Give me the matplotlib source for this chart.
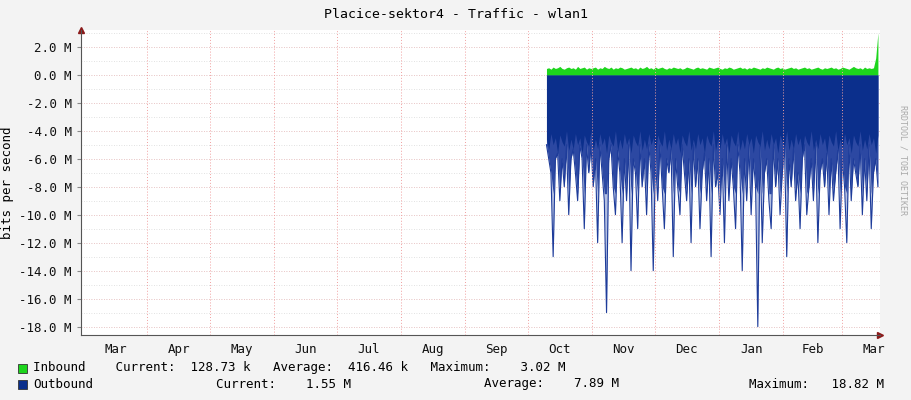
import matplotlib
matplotlib.use("Agg")
import matplotlib.pyplot as plt
import numpy as np

months = ["Mar","Apr","May","Jun","Jul","Aug","Sep","Oct","Nov","Dec","Jan","Feb","Mar"]
month_len = [31,30,31,30,31,31,30,31,30,31,31,28,31]
data_start_day = 223
data_end_day = 382.5
outbound = [5,6,7,13,6,5,9,6,8,5, 10,6,5,7,9,5,6,11,5,7, 5,8,6,12,5,7,9,17,6,5,
            8,10,5,7,12,6,9,5,14,6, 7,11,5,8,6,10,5,7,14,6, 9,5,8,11,6,7,5,13,6,8,
            10,5,7,9,6,12,5,8,6,11, 7,5,9,6,13,5,8,7,10,6, 12,5,9,6,8,11,5,7,14,6,
            9,5,10,6,8,18,5,12,7,6, 9,11,5,8,6,10,7,5,13,6, 8,5,9,7,11,6,5,10,8,6,
            9,5,12,7,6,8,5,10,6,9, 7,5,11,6,8,12,5,9,6,7, 8,5,10,6,9,5,11,7,6,8]
outbound_base = [4.6,5.3,4.2,5.0,4.5,5.6,4.3,4.8,5.1,4.0,5.4]
inbound = [0.45,0.5,0.4,0.55,0.45,0.5,0.6,0.45,0.4,0.5, 0.55,0.45,0.5,0.4,0.6,0.45,0.5,0.55,0.4,0.5,
           0.45,0.5,0.55,0.4,0.5,0.45,0.6,0.5,0.45,0.55, 0.4,0.5,0.45,0.55,0.5,0.4,0.45,0.5,0.55,0.45,
           0.5,0.4,0.55,0.45,0.5,0.6,0.45,0.5,0.4,0.55, 0.45,0.5,0.55,0.45,0.4,0.5,0.45,0.55,0.5,0.45,
           0.5,0.4,0.45,0.55,0.5,0.45,0.4,0.5,0.55,0.45, 0.5,0.45,0.4,0.55,0.5,0.45,0.5,0.55,0.45,0.4,
           0.5,0.45,0.55,0.5,0.4,0.45,0.5,0.55,0.45,0.5, 0.4,0.5,0.45,0.55,0.5,0.45,0.4,0.5,0.45,0.55,
           0.5,0.45,0.4,0.5,0.55,0.45,0.5,0.4,0.45,0.5, 0.55,0.45,0.5,0.4,0.45,0.5,0.55,0.45,0.5,0.4,
           0.45,0.5,0.55,0.45,0.4,0.5,0.45,0.5,0.55,0.45, 0.5,0.4,0.45,0.55,0.5,0.45,0.4,0.5,0.6,0.5,
           0.45,0.5,0.4,0.55,0.45,0.5,0.45,0.5,1.2,3.0]

mono = "DejaVu Sans Mono"
fig = plt.figure(figsize=(9.11,4), dpi=100, facecolor="#F3F3F3")
ax = fig.add_axes([81/911, 1-335/400, 799/911, 305/400], facecolor="white")

n = len(outbound)
xo = np.linspace(data_start_day, data_end_day, n)
base = np.array([outbound_base[i % len(outbound_base)] for i in range(n)])
out = -np.maximum(np.array(outbound, float), base) * 1e6
ax.fill_between(xo, 0, out, color="#B4C0E2", lw=0, zorder=2)
ax.fill_between(xo, 0, np.maximum(out, -8.5e6), color="#2C48A2", lw=0, zorder=2)
ax.plot(xo, out, color="#1E3C9A", lw=0.8, zorder=2)
ax.fill_between(xo, 0, -base*1e6, color="#0B2F8C", lw=0, zorder=3)
xi = np.linspace(data_start_day, data_end_day, len(inbound))
ax.fill_between(xi, 0, np.array(inbound)*1e6, color="#1DD51D", lw=0, zorder=3)

starts = np.cumsum([0]+month_len[:-1])
for s in starts[1:]:
    ax.axvline(s, color="#F0A0A0", lw=0.7, ls=(0,(1,2)), zorder=4)
for v in np.arange(-18, 4, 1):
    ax.axhline(v*1e6, color="#D8D8D8", lw=0.6, ls=(0,(1,2)), zorder=1)
for v in np.arange(-18, 4, 2):
    ax.axhline(v*1e6, color="#F0C0C0", lw=0.6, ls=(0,(1,2)), zorder=1)

yt = np.arange(-18, 3, 2)
ax.set_yticks(yt*1e6)
ax.set_yticklabels([f"{v:.1f} M" for v in yt], fontsize=9, family=mono, color="#111")
mids = [s + l/2 for s, l in zip(starts, month_len)]
ax.set_xticks(mids)
ax.set_xticklabels(months, fontsize=9, family=mono, color="#111")
ax.set_xlim(-1, 383.5)
ax.set_ylim(-18.6e6, 3.2e6)
ax.tick_params(axis="x", length=0, pad=6)
ax.tick_params(axis="y", length=3, color="#888")
for sp in ["top","right"]:
    ax.spines[sp].set_visible(False)
for sp in ["left","bottom"]:
    ax.spines[sp].set_color("#555")
ax.plot([1], [0], ">", color="#8B1A1A", ms=4, transform=ax.transAxes, clip_on=False)
ax.plot([0], [1], "^", color="#8B1A1A", ms=4, transform=ax.transAxes, clip_on=False)
ax.set_ylabel("bits per second", fontsize=9, family=mono)

fig.text(0.5, 1-15/400, "Placice-sektor4 - Traffic - wlan1", ha="center", va="center", fontsize=9.5, family=mono)
fig.text(903/911, 0.5+40/400, "RRDTOOL / TOBI OETIKER", rotation=270, ha="center", va="center", fontsize=6, family=mono, color="#AAAAAA")

fig.patches.append(plt.Rectangle((18/911, 1-373/400), 9/911, 9/400, transform=fig.transFigure, facecolor="#1DD51D", edgecolor="#333", lw=0.6))
fig.patches.append(plt.Rectangle((18/911, 1-389/400), 9/911, 9/400, transform=fig.transFigure, facecolor="#0B2F8C", edgecolor="#333", lw=0.6))
fig.text(33/911, 1-368/400, "Inbound    Current:  128.73 k   Average:  416.46 k   Maximum:    3.02 M", fontsize=9, family=mono, va="center")
fig.text(33/911, 1-384/400, "Outbound", fontsize=9, family=mono, va="center")
fig.text(216/911, 1-384/400, "Current:    1.55 M", fontsize=9, family=mono, va="center")
fig.text(484/911, 1-384/400, "Average:    7.89 M", fontsize=9, family=mono, va="center")
fig.text(749/911, 1-384/400, "Maximum:   18.82 M", fontsize=9, family=mono, va="center")

fig.savefig("out.png", dpi=100, facecolor=fig.get_facecolor())
